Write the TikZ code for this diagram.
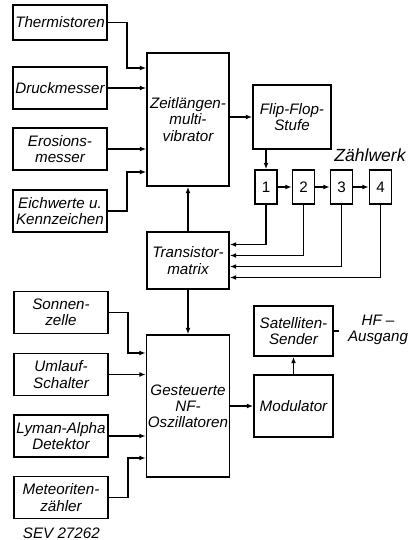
\documentclass[tikz,border=0pt]{standalone}
\usepackage{fontspec}
\setmainfont{Liberation Sans}
\usetikzlibrary{positioning,calc}
\usetikzlibrary{arrows.meta}
\tikzset{
  blk/.style={draw=black,line width=1.25pt,fill=white,align=center,inner sep=1pt,
    font=\itshape\fontsize{10.8}{11.5}\selectfont},
  sens/.style={blk,minimum width=23.5mm,minimum height=10.5mm},
  wide/.style={blk,minimum width=20.5mm},
  cnt/.style={blk,minimum width=5.5mm,minimum height=8.5mm},
  sig/.style={draw=black,line width=0.95pt,-{Latex[length=4.5pt,width=3.5pt]}},
  lbl/.style={align=center,font=\itshape\fontsize{10.8}{11.5}\selectfont},
}

\begin{document}
\begin{tikzpicture}[x=0.25mm,y=-0.25mm]
\useasboundingbox (0,0) rectangle (411,540);
% sensors, upper group
\node[sens,minimum height=8.75mm] (therm) at (60,22.5) {Thermistoren};
\node[sens] (druck) at (60,88) {Druckmesser};
\node[sens] (eros) at (60,149) {Erosions-\\messer};
\node[sens] (eich) at (60,211) {Eichwerte u.\\Kennzeichen};
% central chain
\node[wide,minimum height=33.25mm] (zeit) at (188,119.5) {Zeitlängen-\\multi-\\vibrator};
\node[wide,minimum height=14.25mm] (trans) at (188,260.5) {Transistor-\\matrix};
\node[wide,minimum height=35.5mm] (oszi) at (188,406) {Gesteuerte\\NF-\\Oszillatoren};
% counter
\node[blk,minimum width=19.5mm,minimum height=16mm] (flip) at (292,117) {Flip-Flop-\\Stufe};
\node[cnt,font=\fontsize{10.8}{11.5}\selectfont] (z1) at (266,187) {1};
\node[cnt,font=\fontsize{10.8}{11.5}\selectfont] (z2) at (303.5,187) {2};
\node[cnt,font=\fontsize{10.8}{11.5}\selectfont] (z3) at (341.5,187) {3};
\node[cnt,font=\fontsize{10.8}{11.5}\selectfont] (z4) at (380.5,187) {4};
\node[lbl,font=\itshape\fontsize{12.5}{13}\selectfont] (zwerk) at (370,155) {Zählwerk};
% sensors, lower group
\node[sens] (sonne) at (61,312.5) {Sonnen-\\zelle};
\node[sens] (umlauf) at (61,374.5) {Umlauf-\\Schalter};
\node[sens] (lyman) at (61,436) {Lyman-Alpha\\Detektor};
\node[sens] (meteor) at (61,497.5) {Meteoriten-\\zähler};
% transmitter
\node[blk,minimum width=19.75mm,minimum height=12.5mm] (sender) at (293.5,331) {Satelliten-\\Sender};
\node[blk,minimum width=19.75mm,minimum height=15.5mm] (modul) at (293.5,406) {Modulator};
\node[lbl] (hf) at (378,329.5) {HF –\\Ausgang};
\node[lbl,anchor=west] (sev) at (18,533) {SEV 27262};

\draw[sig] (therm.east) -- ++(19,0) |- ($(zeit.west)+(0,-51.5)$);
\draw[sig] (druck.east) -- (zeit.west |- druck.east);
\draw[sig] (eros.east) -- (zeit.west |- eros.east);
\draw[sig] (eich.east) -- ++(19,0) |- ($(zeit.west)+(0,52.5)$);
\draw[sig] (trans.north) -- (zeit.south);
\draw[sig] (trans.south) -- (oszi.north);
\draw[sig] (zeit.east |- flip.west) -- (flip.west);
\draw[sig] (flip.south -| z1.north) -- (z1.north);
\draw[sig] (z1.east) -- (z2.west);
\draw[sig] (z2.east) -- (z3.west);
\draw[sig] (z3.east) -- (z4.west);
\draw[sig] (z1.south) |- ($(trans.east)+(0,-16)$);
\draw[sig] (z2.south) |- ($(trans.east)+(0,-5)$);
\draw[sig] (z3.south) |- ($(trans.east)+(0,6)$);
\draw[sig] (z4.south) |- ($(trans.east)+(0,17)$);
\draw[sig] (sonne.east) -- ++(19,0) |- ($(oszi.west)+(0,-53)$);
\draw[sig] (umlauf.east) -- (oszi.west |- umlauf.east);
\draw[sig] (lyman.east) -- (oszi.west |- lyman.east);
\draw[sig] (meteor.east) -- ++(19,0) |- ($(oszi.west)+(0,52)$);
\draw[sig] (oszi.east) -- (modul.west);
\draw[sig] (modul.north) -- (sender.south);
\draw[line width=0.95pt] (sender.east) -- ++(5,0);
\end{tikzpicture}
\end{document}
